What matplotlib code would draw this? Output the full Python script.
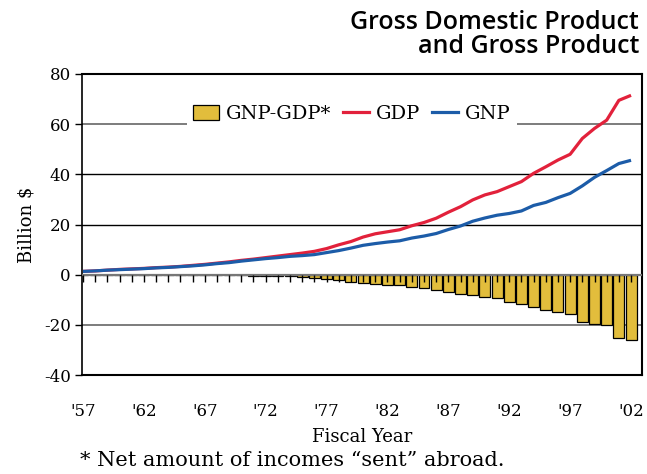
import matplotlib
matplotlib.use("Agg")
import matplotlib.pyplot as plt
import numpy as np
from matplotlib.patches import Patch
from matplotlib.lines import Line2D

years = list(range(1957, 2003))

gdp = [1.3, 1.5, 1.8, 2.1, 2.3, 2.5, 2.8, 3.0, 3.3, 3.7,
       4.1, 4.6, 5.1, 5.7, 6.2, 6.8, 7.4, 8.0, 8.6, 9.3,
       10.4, 11.9, 13.2, 15.0, 16.3, 17.1, 17.9, 19.5, 20.8, 22.5,
       24.9, 27.1, 29.8, 31.8, 33.1, 35.1, 37.1, 40.4, 43.0, 45.7,
       48.0, 54.3, 58.3, 61.6, 69.5, 71.5]

gnp = [1.3, 1.5, 1.8, 2.0, 2.2, 2.4, 2.7, 2.9, 3.2, 3.5,
       3.9, 4.4, 4.8, 5.4, 5.9, 6.4, 6.8, 7.3, 7.6, 8.0,
       8.8, 9.6, 10.6, 11.7, 12.4, 13.0, 13.5, 14.6, 15.4, 16.4,
       18.0, 19.4, 21.3, 22.6, 23.7, 24.4, 25.4, 27.6, 28.8, 30.7,
       32.4, 35.4, 38.8, 41.5, 44.3, 45.6]

gnp_gdp = [0.0, 0.0, 0.0, 0.0, 0.0, 0.0, 0.0, 0.0, 0.0, 0.0,
           -0.2, -0.2, -0.3, -0.3, -0.4, -0.4, -0.6, -0.7, -1.0, -1.3,
           -1.6, -2.0, -2.8, -3.3, -3.8, -4.0, -4.0, -4.9, -5.3, -6.1,
           -6.9, -7.7, -8.3, -8.9, -9.4, -10.9, -11.7, -12.8, -14.2, -14.8,
           -15.6, -18.9, -19.5, -20.1, -25.2, -25.9]

label_years = [1957, 1962, 1967, 1972, 1977, 1982, 1987, 1992, 1997, 2002]
label_text = ["'57", "'62", "'67", "'72", "'77", "'82", "'87", "'92", "'97", "'02"]
yticks = [-40, -20, 0, 20, 40, 60, 80]

RED = "#e2213b"
BLUE = "#1c5ca8"
YELLOW = "#e2bd3c"
SERIF = "DejaVu Serif"

fig = plt.figure(figsize=(6.47, 4.74), dpi=100)
ax = fig.add_axes([82/647, 1-375/474, (642-82)/647, (375-74)/474])

ax.bar(years, gnp_gdp, width=0.9, color=YELLOW, edgecolor="black", linewidth=0.9, zorder=2)
ax.axhline(0, color="#777777", linewidth=1.6, zorder=3)
ax.plot(years, np.zeros(len(years)), linestyle="none", marker=3, markersize=5,
        markeredgewidth=1.0, color="black", zorder=4)
ax.plot(years, gdp, color=RED, linewidth=2.3, zorder=5, solid_capstyle="butt")
ax.plot(years, gnp, color=BLUE, linewidth=2.3, zorder=6, solid_capstyle="butt")

ax.set_xlim(1956.92, 2002.9)
ax.set_ylim(-40, 80)
ax.set_yticks(yticks)
ax.set_yticklabels([str(v) for v in yticks], fontfamily=SERIF, fontsize=12)
ax.set_xticks(label_years)
ax.set_xticklabels(label_text, fontfamily=SERIF, fontsize=12)
ax.tick_params(axis="x", length=0, pad=20)
ax.tick_params(axis="y", length=5, width=1, direction="out", pad=3)

ax.yaxis.grid(True, zorder=1)
for val, gl in zip(yticks, ax.get_ygridlines()):
    if val in (20, 40):
        gl.set_color("black"); gl.set_linewidth(1.0)
    elif val in (60, -20):
        gl.set_color("#666666"); gl.set_linewidth(1.2)
    else:
        gl.set_visible(False)

for s in ax.spines.values():
    s.set_color("black"); s.set_linewidth(1.5)
ax.spines["left"].set_linewidth(1.2)

ax.set_ylabel("Billion $", fontfamily=SERIF, fontsize=13, labelpad=6)

handles = [Patch(facecolor=YELLOW, edgecolor="black", linewidth=0.9),
           Line2D([], [], color=RED, linewidth=2.3),
           Line2D([], [], color=BLUE, linewidth=2.3)]
leg = ax.legend(handles, ["GNP-GDP*", "GDP", "GNP"], ncol=3, loc="center",
                bbox_to_anchor=(0.482, 0.868), frameon=True, fancybox=False,
                prop={"family": SERIF, "size": 14}, handlelength=1.35,
                handleheight=0.8, handletextpad=0.35, columnspacing=0.6,
                borderpad=0.3, borderaxespad=0)
leg.get_frame().set_facecolor("white")
leg.get_frame().set_edgecolor("none")
leg.get_frame().set_alpha(1)
leg.set_zorder(10)

fig.text(362/647, 1-437/474, "Fiscal Year", ha="center", va="center",
         fontfamily=SERIF, fontsize=13)
fig.text(80/647, 1-461/474, "* Net amount of incomes \u201csent\u201d abroad.",
         ha="left", va="center", fontfamily=SERIF, fontsize=15)
fig.text(639/647, 1-10/474, "Gross Domestic Product\nand Gross Product",
         ha="right", va="top", fontfamily="Open Sans", fontweight="semibold",
         fontsize=18, linespacing=0.95)

fig.savefig("out.png", dpi=100)
